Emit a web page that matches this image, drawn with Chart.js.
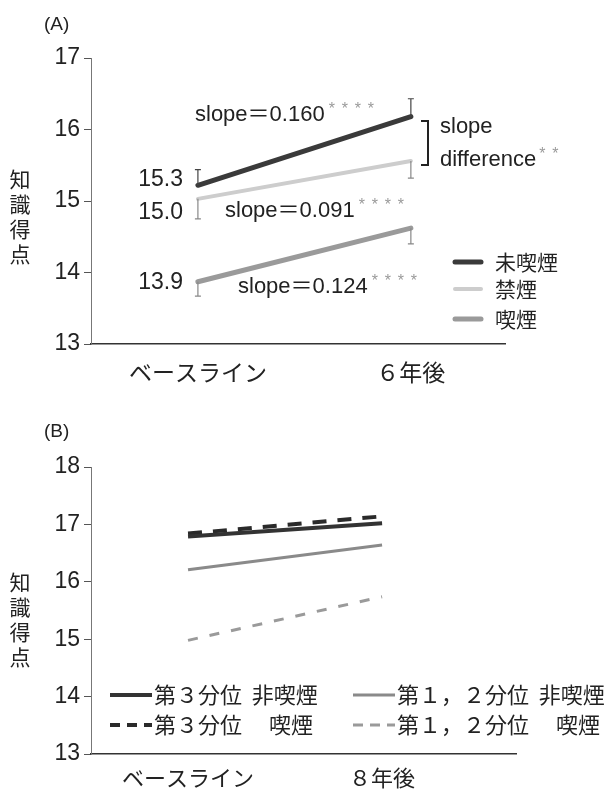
<!DOCTYPE html>
<html>
<head>
<meta charset="utf-8">
<script src="https://cdn.jsdelivr.net/npm/chart.js@4.4.1/dist/chart.umd.min.js"></script>
<style>
  html, body { margin: 0; padding: 0; background: #fff; }
  .panel { position: absolute; left: 0; width: 615px; }
  #wrapA { top: 0; height: 395px; }
  #wrapB { top: 400px; height: 391px; }
</style>
</head>
<body>
<div class="panel" id="wrapA"><canvas id="chartA"></canvas></div>
<div class="panel" id="wrapB"><canvas id="chartB"></canvas></div>
<script>
// ---- data (A) ----
const categoriesA = ['ベースライン', '６年後'];
const seriesNamesA = ['未喫煙', '禁煙', '喫煙'];
const neverA = [15.22, 16.18];
const quitA = [15.03, 15.56];
const smokeA = [13.87, 14.62];
const errNeverA = [0.22, 0.25];   // drawn upward
const errQuitA = [0.28, 0.24];    // drawn downward
const errSmokeA = [0.20, 0.22];   // drawn downward
const baseLabelsA = ['15.3', '15.0', '13.9'];
const slopeLabelsA = ['0.160', '0.091', '0.124'];
const yTicksA = [13, 14, 15, 16, 17];

// ---- data (B) ----
const categoriesB = ['ベースライン', '８年後'];
const seriesNamesB = ['第３分位  非喫煙', '第３分位　 喫煙', '第１，２分位  非喫煙', '第１，２分位　 喫煙'];
const top3NonB = [16.79, 17.02];
const top3SmkB = [16.84, 17.14];
const low12NonB = [16.21, 16.64];
const low12SmkB = [14.98, 15.74];
const yTicksB = [13, 14, 15, 16, 17, 18];

const LATIN = "'Liberation Sans', 'Noto Sans CJK JP', sans-serif";
const CJK = "'Noto Sans CJK JP', sans-serif";

const pts = arr => arr.map((v, i) => ({ x: i, y: v }));

function baseOptions(cats, yTicks, xMin, xMax, yWidth, xHeight, pad, fontSize, xPad) {
  return {
    responsive: true,
    maintainAspectRatio: false,
    animation: false,
    layout: { padding: pad },
    plugins: { legend: { display: false }, tooltip: { enabled: false } },
    scales: {
      x: {
        type: 'linear', min: xMin, max: xMax,
        afterBuildTicks: s => { s.ticks = cats.map((c, i) => ({ value: i })); },
        afterFit: s => { s.height = xHeight; },
        ticks: {
          callback: v => cats[v] ?? '',
          color: '#222', padding: xPad, maxRotation: 0,
          font: { family: CJK, size: fontSize }
        },
        grid: { display: false },
        border: { display: true, color: '#333', width: 1.5 }
      },
      y: {
        min: yTicks[0], max: yTicks[yTicks.length - 1],
        afterBuildTicks: s => { s.ticks = yTicks.map(v => ({ value: v })); },
        afterFit: s => { s.width = yWidth; },
        ticks: { color: '#222', padding: 4, font: { family: LATIN, size: 23 } },
        grid: { drawOnChartArea: false, drawTicks: true, tickLength: 7, color: '#555', lineWidth: 1 },
        border: { display: true, color: '#777', width: 1, dash: [2, 2] }
      }
    }
  };
}

function drawVerticalTitle(ctx, text, x, yStart, step) {
  ctx.save();
  ctx.fillStyle = '#222';
  ctx.font = '21px ' + CJK;
  ctx.textAlign = 'center';
  ctx.textBaseline = 'middle';
  [...text].forEach((ch, i) => ctx.fillText(ch, x, yStart + i * step));
  ctx.restore();
}

function stars(ctx, x, y, n) {
  ctx.save();
  ctx.fillStyle = '#9a9a9a';
  ctx.font = '16px ' + LATIN;
  ctx.textAlign = 'left';
  ctx.textBaseline = 'middle';
  for (let i = 0; i < n; i++) ctx.fillText('*', x + i * 13, y);
  ctx.restore();
}

// ---- Panel A ----
const dsA = [
  { label: seriesNamesA[0], data: pts(neverA), borderColor: '#3a3a3a', borderWidth: 5, err: errNeverA, dir: -1, errColor: '#444' },
  { label: seriesNamesA[1], data: pts(quitA), borderColor: '#cdcdcd', borderWidth: 4, err: errQuitA, dir: 1, errColor: '#888' },
  { label: seriesNamesA[2], data: pts(smokeA), borderColor: '#9a9a9a', borderWidth: 5, err: errSmokeA, dir: 1, errColor: '#888' }
].map(d => Object.assign(d, { pointRadius: 0, borderCapStyle: 'round', fill: false }));

const annotA = {
  id: 'annotA',
  afterDatasetsDraw(chart) {
    const { ctx, scales: { x, y } } = chart;
    // error bars
    chart.data.datasets.forEach(d => {
      d.data.forEach((p, i) => {
        const px = x.getPixelForValue(p.x);
        const y0 = y.getPixelForValue(p.y);
        const yEnd = y.getPixelForValue(d.dir < 0 ? p.y + d.err[i] : p.y - d.err[i]);
        ctx.save();
        ctx.strokeStyle = d.errColor;
        ctx.lineWidth = 1.2;
        ctx.beginPath();
        ctx.moveTo(px, y0); ctx.lineTo(px, yEnd);
        ctx.moveTo(px - 3, yEnd); ctx.lineTo(px + 3, yEnd);
        ctx.stroke();
        ctx.restore();
      });
    });
  },
  afterDraw(chart) {
    const { ctx } = chart;
    ctx.save();
    ctx.fillStyle = '#222';
    ctx.textBaseline = 'middle';
    // panel label
    ctx.font = '19px ' + LATIN;
    ctx.fillText('(A)', 44, 25);
    drawVerticalTitle(ctx, '知識得点', 20, 179, 25);
    // baseline values
    ctx.font = '23px ' + LATIN;
    ctx.textAlign = 'right';
    [180, 213, 283].forEach((yy, i) => ctx.fillText(baseLabelsA[i], 183, yy));
    // slope labels
    ctx.textAlign = 'left';
    ctx.font = '22px ' + LATIN;
    const slopePos = [[195, 115], [225, 211], [238, 287]];
    slopePos.forEach((p, i) => {
      const t = 'slope＝' + slopeLabelsA[i];
      ctx.fillText(t, p[0], p[1]);
      stars(ctx, p[0] + ctx.measureText(t).width + 4, p[1] - 5, 4);
    });
    // bracket
    ctx.strokeStyle = '#222';
    ctx.lineWidth = 2;
    ctx.beginPath();
    ctx.moveTo(421, 121); ctx.lineTo(428, 121); ctx.lineTo(428, 165); ctx.lineTo(421, 165);
    ctx.stroke();
    ctx.fillText('slope', 440, 127);
    ctx.fillText('difference', 440, 160);
    stars(ctx, 440 + ctx.measureText('difference').width + 3, 155, 2);
    // legend
    const rows = [262, 289, 319];
    chart.data.datasets.forEach((d, i) => {
      ctx.strokeStyle = d.borderColor;
      ctx.lineWidth = d.borderWidth;
      ctx.lineCap = 'round';
      ctx.beginPath();
      ctx.moveTo(455, rows[i]); ctx.lineTo(481, rows[i]);
      ctx.stroke();
      ctx.font = '21px ' + CJK;
      ctx.fillStyle = '#222';
      ctx.fillText(d.label, 495, rows[i]);
    });
    ctx.restore();
  }
};

new Chart(document.getElementById('chartA'), {
  type: 'line',
  data: { datasets: dsA },
  options: baseOptions(categoriesA, yTicksA, -0.502, 1.442, 91, 51,
    { top: 58, right: 110, bottom: 0, left: 0 }, 23, 6),
  plugins: [annotA]
});

// ---- Panel B ----
const dsB = [
  { label: seriesNamesB[0], data: pts(top3NonB), borderColor: '#333', borderWidth: 4, borderDash: [] },
  { label: seriesNamesB[1], data: pts(top3SmkB), borderColor: '#2a2a2a', borderWidth: 4, borderDash: [14, 11] },
  { label: seriesNamesB[2], data: pts(low12NonB), borderColor: '#8a8a8a', borderWidth: 3, borderDash: [] },
  { label: seriesNamesB[3], data: pts(low12SmkB), borderColor: '#9a9a9a', borderWidth: 3, borderDash: [10, 12] }
].map(d => Object.assign(d, { pointRadius: 0, fill: false }));

const annotB = {
  id: 'annotB',
  afterDraw(chart) {
    const { ctx } = chart;
    ctx.save();
    ctx.fillStyle = '#222';
    ctx.textBaseline = 'middle';
    ctx.font = '19px ' + LATIN;
    ctx.fillText('(B)', 44, 32);
    drawVerticalTitle(ctx, '知識得点', 20, 182, 25);
    // legend, two columns
    const cells = [[110, 295], [110, 325], [353, 295], [353, 325]];
    chart.data.datasets.forEach((d, i) => {
      const [lx, ly] = cells[i];
      ctx.strokeStyle = d.borderColor;
      ctx.lineWidth = d.borderWidth;
      ctx.setLineDash(d.borderDash.length ? [10, 7] : []);
      ctx.beginPath();
      ctx.moveTo(lx, ly); ctx.lineTo(lx + 42, ly);
      ctx.stroke();
      ctx.setLineDash([]);
      ctx.font = '22px ' + CJK;
      ctx.fillStyle = '#222';
      ctx.fillText(d.label, lx + 44, ly);
    });
    ctx.restore();
  }
};

new Chart(document.getElementById('chartB'), {
  type: 'line',
  data: { datasets: dsB },
  options: baseOptions(categoriesB, yTicksB, -0.5, 1.69, 91, 37,
    { top: 67, right: 99, bottom: 0, left: 0 }, 22, 2),
  plugins: [annotB]
});
</script>
</body>
</html>
